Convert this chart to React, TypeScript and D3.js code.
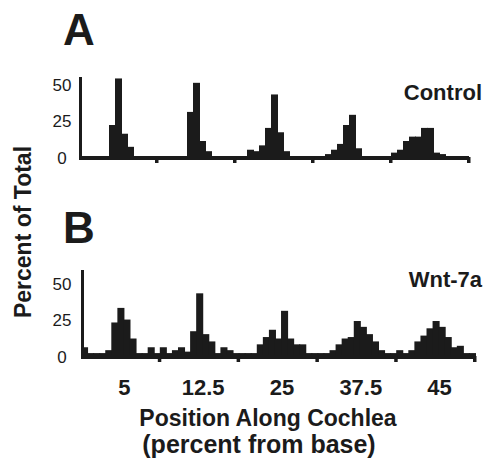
import React from 'react';
import * as d3 from 'd3';

// Positions along the cochlea (percent from base), one group of bins each
const groups = ['5', '12.5', '25', '37.5', '45'];
const binsPerGroup = 13;
const yTicks = [0, 25, 50];

// Percent of total, 13 bins per position
const controlValues = [
  0, 0, 0, 0, 0, 22, 54, 16, 7, 0, 0, 0, 0,
  0, 0, 0, 0, 0, 31, 51, 11, 4, 0, 0, 0, 0,
  0, 0, 5, 4, 8, 20, 43, 17, 4, 0, 0, 0, 0,
  0, 0, 2, 5, 9, 22, 29, 6, 0, 0, 0, 0, 0,
  3, 5, 11, 14, 14, 20, 20, 3, 2, 0, 0, 0, 0,
];

const wntValues = [
  6, 2, 2, 2, 4, 23, 33, 25, 12, 2, 2, 6, 2,
  6, 2, 4, 6, 3, 17, 43, 15, 10, 2, 6, 4, 2,
  2, 2, 2, 8, 13, 18, 12, 31, 12, 8, 8, 2, 2,
  2, 2, 4, 8, 12, 13, 24, 20, 15, 10, 4, 2, 2,
  4, 2, 4, 10, 14, 19, 24, 20, 13, 6, 7, 2, 2,
];

const font = "'Liberation Sans', Arial, Helvetica, sans-serif";
const ink = '#1b1b1b';

type PanelProps = {
  values: number[];
  label: string;
  letter: string;
  x0: number;
  x1: number;
  yBase: number;
  yTop: number;
  yMax: number;
  letterY: number;
  labelY: number;
  showTicks?: boolean;
};

const Panel = ({ values, label, letter, x0, x1, yBase, yTop, yMax, letterY, labelY, showTicks }: PanelProps) => {
  const x = d3.scaleBand<number>().domain(d3.range(values.length)).range([x0, x1]).padding(0);
  const y = d3.scaleLinear().domain([0, yMax]).range([yBase, yTop]);
  const edges = d3.range(1, groups.length + 1).map(g =>
    g === groups.length ? x1 : (x(g * binsPerGroup) as number)
  );
  const bw = x.bandwidth();

  return (
    <g>
      <text x={79} y={letterY} fontSize={44} fontWeight="bold" textAnchor="middle" fill={ink}>{letter}</text>
      <text x={482} y={labelY} fontSize={22} fontWeight="bold" textAnchor="end" fill={ink}>{label}</text>

      {values.map((v, i) =>
        v > 0 ? (
          <rect key={i} x={x(i)} y={y(v)} width={bw + 1} height={yBase - y(v)} fill={ink} />
        ) : null
      )}

      {/* x baseline with group tick marks */}
      <line x1={x0} x2={x1} y1={yBase + 1} y2={yBase + 1} stroke={ink} strokeWidth={4} />
      {edges.map((e, i) => (
        <rect key={i} x={e - 2} y={yBase} width={3.5} height={6} fill={ink} />
      ))}

      {/* y axis */}
      <line x1={x0 + 1.5} x2={x0 + 1.5} y1={y(yMax)} y2={yBase + 3} stroke={ink} strokeWidth={3} />
      {yTicks.map(t => (
        <text key={t} x={62} y={y(t) + 6.5} fontSize={17} textAnchor="middle" fill={ink}>{t}</text>
      ))}

      {showTicks &&
        groups.map((g, i) => (
          <text
            key={g}
            x={(x(i * binsPerGroup) as number) + (bw * binsPerGroup) / 2 + 4}
            y={395}
            fontSize={22}
            fontWeight="bold"
            textAnchor="middle"
            fill={ink}
          >
            {g}
          </text>
        ))}
    </g>
  );
};

export default function App() {
  return (
    <svg
      width={484}
      height={462}
      style={{ position: 'absolute', left: 0, top: 0, background: '#fff' }}
      fontFamily={font}
    >
      <rect width={484} height={462} fill="#fff" />
      <Panel values={controlValues} label="Control" letter="A" x0={79} x1={469} yBase={157} yTop={77} yMax={55} letterY={45} labelY={100} />
      <Panel values={wntValues} label="Wnt-7a" letter="B" x0={81} x1={475} yBase={356} yTop={270} yMax={59} letterY={243} labelY={287} showTicks />

      <text transform="translate(31,232) rotate(-90)" fontSize={23} fontWeight="bold" textAnchor="middle" fill={ink}>
        Percent of Total
      </text>
      <text x={268} y={426} fontSize={23} fontWeight="bold" textAnchor="middle" fill={ink}>
        Position Along Cochlea
      </text>
      <text x={259} y={453} fontSize={25} fontWeight="bold" textAnchor="middle" fill={ink}>
        (percent from base)
      </text>
    </svg>
  );
}
